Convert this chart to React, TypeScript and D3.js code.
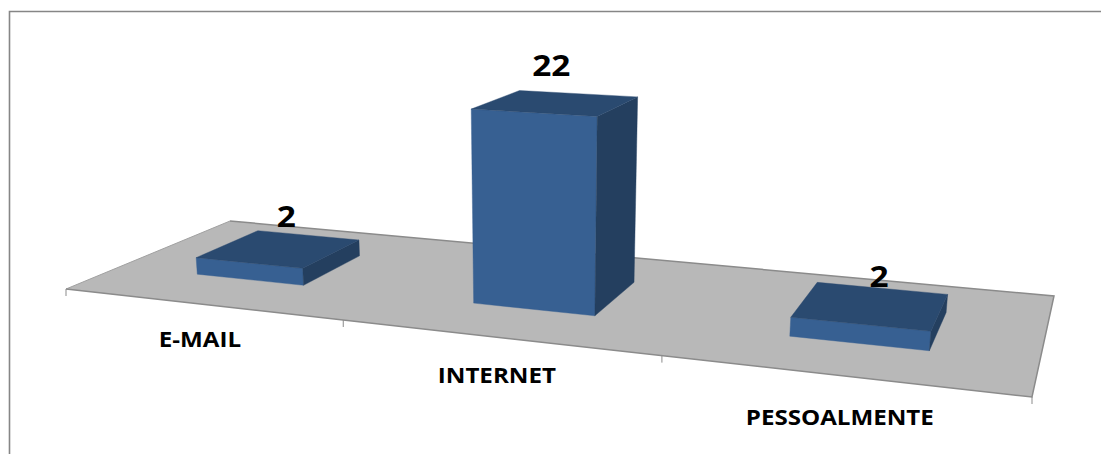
import React from "react";
import * as d3 from "d3";

const categories = ["E-MAIL", "INTERNET", "PESSOALMENTE"];
const values = [2, 22, 2];

const WIDTH = 1101;
const HEIGHT = 454;

// Floor quad corners on screen (perspective plane of the 3D chart)
const floorFrontLeft: [number, number] = [66, 289];
const floorFrontRight: [number, number] = [1032, 397];
const floorBackRight: [number, number] = [1054, 296];
const floorBackLeft: [number, number] = [230, 221];

// Unit-square → quad homography
function makeHomography() {
  const [x0, y0] = floorFrontLeft;
  const [x1, y1] = floorFrontRight;
  const [x2, y2] = floorBackRight;
  const [x3, y3] = floorBackLeft;
  const dx1 = x1 - x2, dx2 = x3 - x2, sx = x0 - x1 + x2 - x3;
  const dy1 = y1 - y2, dy2 = y3 - y2, sy = y0 - y1 + y2 - y3;
  const den = dx1 * dy2 - dx2 * dy1;
  const g = (sx * dy2 - dx2 * sy) / den;
  const h = (dx1 * sy - sx * dy1) / den;
  const a = x1 - x0 + g * x1, b = x3 - x0 + h * x3;
  const d = y1 - y0 + g * y1, e = y3 - y0 + h * y3;
  return (u: number, v: number) => {
    const w = g * u + h * v + 1;
    return { x: (a * u + b * v + x0) / w, y: (d * u + e * v + y0) / w, w };
  };
}
const floor = makeHomography();

const band = d3.scaleBand<string>().domain(categories).range([0, 1]).paddingInner(0.6).paddingOuter(0.3);
const heightScale = d3.scaleLinear().domain([0, 22]).range([0, 188]);
const depth: [number, number] = [0.3, 0.7];
const VERT_CENTER = 537;
const VERT_SPREAD = 0.0002;

function pt(u: number, v: number, value = 0): [number, number] {
  const p = floor(u, v);
  const h = heightScale(value) / p.w;
  return [p.x + (p.x - VERT_CENTER) * VERT_SPREAD * h, p.y - h];
}

const poly = d3.line<[number, number]>().curve(d3.curveLinearClosed);

const valueLabelOffset = [
  [7, -21.5],
  [-5, -27],
  [8, -19],
];
const categoryBaseline = 41.5;
const ticks = d3.range(0, 4).map((i) => i / 3);

const FONT = "'Open Sans', sans-serif";
const TEXT_STRETCH = 1.15;
const FRONT = "#376092";
const TOP = "#2a4a70";
const SIDE = "#243f5f";
const FLOOR = "#b8b8b8";
const EDGE = "#8b8b8b";
const FRAME = "#868686";

export default function App() {
  const corners: [number, number][] = [[0, 0], [1, 0], [1, 1], [0, 1]];
  return (
    <svg width={WIDTH} height={HEIGHT} style={{ position: "absolute", left: 0, top: 0, display: "block", background: "#fff" }}>
      <path d={`M9.5,${HEIGHT}V11.5H${WIDTH}`} fill="none" stroke={FRAME} strokeWidth={1.6} />
      <path d={poly(corners.map(([u, v]) => pt(u, v))) as string} fill={FLOOR} />
      <path d={d3.line()([pt(0, 0), pt(0, 1)]) as string} fill="none" stroke="#a0a0a0" strokeWidth={1} />
      <path d={d3.line()([pt(0, 1), pt(1, 1), pt(1, 0), pt(0, 0)]) as string} fill="none" stroke={EDGE} strokeWidth={1.5} />
      {ticks.map((t) => {
        const [x, y] = pt(t, 0);
        return <line key={t} x1={x} x2={x} y1={y} y2={y + 7} stroke={EDGE} strokeWidth={1} />;
      })}
      {categories.map((c, i) => {
        const u0 = band(c) as number;
        const u1 = u0 + band.bandwidth();
        const [v0, v1] = depth;
        const val = values[i];
        const center = u0 + band.bandwidth() / 2;
        const top = pt(center, 0.5, val);
        return (
          <g key={c}>
            <path d={poly([pt(u0, v0), pt(u1, v0), pt(u1, v0, val), pt(u0, v0, val)]) as string} fill={FRONT} stroke={FRONT} strokeWidth={0.4} />
            <path d={poly([pt(u1, v0), pt(u1, v1), pt(u1, v1, val), pt(u1, v0, val)]) as string} fill={SIDE} stroke={SIDE} strokeWidth={0.4} />
            <path d={poly([pt(u0, v0, val), pt(u1, v0, val), pt(u1, v1, val), pt(u0, v1, val)]) as string} fill={TOP} stroke={TOP} strokeWidth={0.4} />
            <text transform={`translate(${top[0] + valueLabelOffset[i][0]},${top[1] + valueLabelOffset[i][1]}) scale(${TEXT_STRETCH},1)`} textAnchor="middle" fontFamily={FONT} fontWeight={700} fontSize={29} fill="#000">
              {val}
            </text>
          </g>
        );
      })}
      {categories.map((c) => {
        const p = floor((band(c) as number) + band.bandwidth() / 2, 0);
        return (
          <text key={c} transform={`translate(${p.x},${p.y + categoryBaseline / p.w}) scale(${TEXT_STRETCH},1)`} textAnchor="middle" fontFamily={FONT} fontWeight={700} fontSize={21} fill="#000">
            {c}
          </text>
        );
      })}
    </svg>
  );
}
